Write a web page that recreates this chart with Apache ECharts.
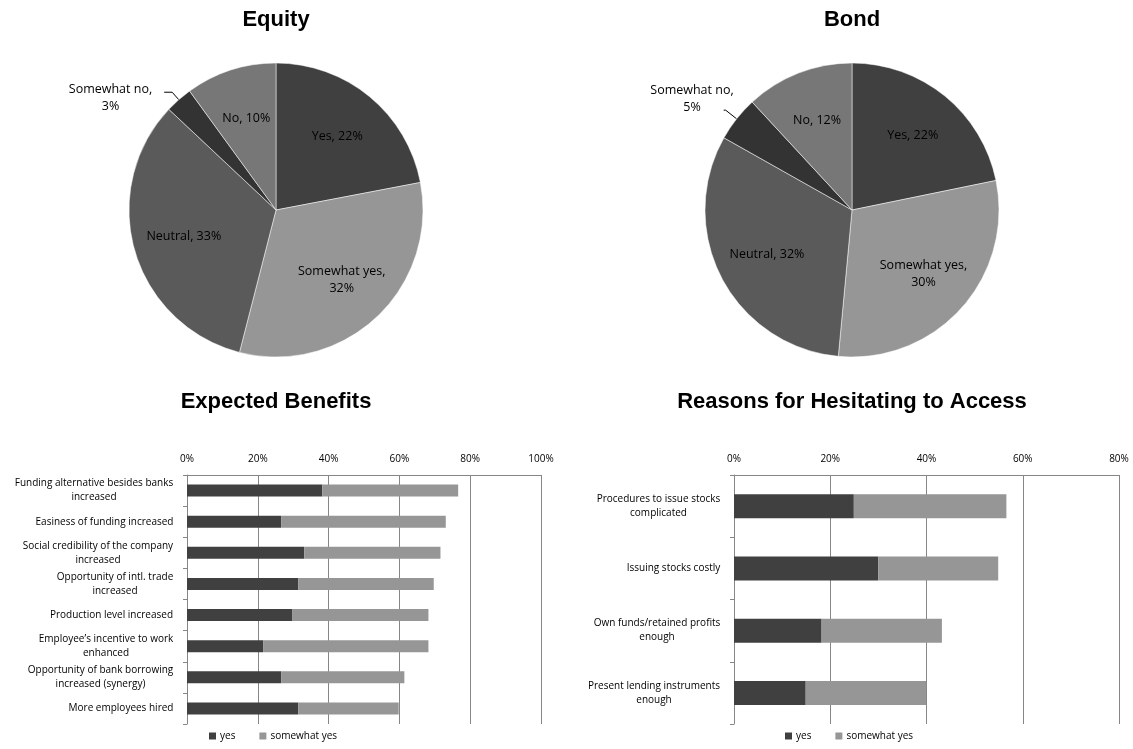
<!DOCTYPE html>
<html>
<head>
<meta charset="utf-8">
<script src="https://cdn.jsdelivr.net/npm/echarts@6/dist/echarts.min.js"></script>
<style>
  html, body { margin: 0; padding: 0; background: #fff; }
  #chart { width: 1133px; height: 749px; }
</style>
</head>
<body>
<div id="chart"></div>
<script>
// pie data (clockwise from 12 o'clock)
const pieNames = ['Yes', 'Somewhat yes', 'Neutral', 'Somewhat no', 'No'];
const equityValues = [22, 32, 33, 3, 10];
const bondValues = [22, 30, 32, 5, 12];
const pieColors = ['#404040', '#969696', '#5a5a5a', '#333333', '#777777'];

// bar data
const benefitCats = [
  'Funding alternative besides banks\nincreased',
  'Easiness of funding increased',
  'Social credibility of the company\nincreased',
  'Opportunity of intl. trade\nincreased',
  'Production level increased',
  'Employee\u2019s incentive to work\nenhanced',
  'Opportunity of bank borrowing\nincreased (synergy)',
  'More employees hired'
];
const benefitYes = [38.2, 26.6, 33.1, 31.4, 29.8, 21.5, 26.6, 31.4];
const benefitSomewhat = [38.4, 46.5, 38.5, 38.3, 38.4, 46.7, 34.8, 28.4];

const reasonCats = [
  'Procedures to issue stocks\ncomplicated',
  'Issuing stocks costly',
  'Own funds/retained profits\nenough',
  'Present lending instruments\nenough'
];
const reasonYes = [24.9, 30.0, 18.2, 14.9];
const reasonSomewhat = [31.7, 24.9, 25.0, 25.0];

const barColors = { yes: '#404040', somewhat: '#969696' };
const FONT = '"Open Sans", "Noto Sans", sans-serif';
const gridColor = '#868686';

// lines of a two-line label are centred on each other, the block is right aligned
const measureCtx = document.createElement('canvas').getContext('2d');
function centredRich(cats, prefix) {
  measureCtx.font = '10px "Open Sans"';
  const rich = {};
  cats.forEach((c, i) => {
    const w = Math.max(...c.split('\n').map(l => measureCtx.measureText(l).width));
    rich[prefix + i] = { width: Math.ceil(w) + 1, align: 'center', fontSize: 10, fontFamily: FONT, color: '#000', lineHeight: 14 };
  });
  return rich;
}
function catFormatter(prefix) {
  return (value, index) => value.split('\n').map(l => '{' + prefix + index + '|' + l + '}').join('\n');
}

function pieSlices(values, line) {
  return pieNames.map((n, i) => {
    const item = { name: n, value: values[i], itemStyle: { color: pieColors[i] } };
    if (n === 'Somewhat no') {
      item.label = { show: true, position: 'outside', formatter: '{b},\n{c}%' };
      item.labelLine = { show: true, length: line[0], length2: line[1], lineStyle: { color: '#000', width: 1 } };
    }
    return item;
  });
}
function pieLabelItems(values) {
  return pieNames.map((n, i) => ({
    name: n, value: values[i],
    label: { show: n !== 'Somewhat no' }
  }));
}

function pieSeries(values, cx, line, shift) {
  return [
    {
      type: 'pie', center: [cx, 210], radius: 147, startAngle: 90,
      silent: true,
      itemStyle: { borderColor: '#fff', borderWidth: 0.5 },
      label: { show: false, color: '#000', fontSize: 12.5, fontFamily: FONT, lineHeight: 17 },
      labelLine: { show: false },
      labelLayout: function (p) {
        return { align: 'center', dx: -p.labelRect.width / 2 + shift[0], dy: shift[1] };
      },
      data: pieSlices(values, line)
    },
    {
      // transparent copy used only to place the inner labels further out
      type: 'pie', center: [cx, 210], radius: [39, 147], startAngle: 90,
      silent: true, z: 3,
      itemStyle: { color: 'rgba(0,0,0,0)', borderWidth: 0 },
      label: {
        position: 'inside', color: '#000', fontSize: 12.5, fontFamily: FONT, lineHeight: 17,
        formatter: p => p.name === 'Somewhat yes' ? p.name + ',\n' + p.value + '%' : p.name + ', ' + p.value + '%'
      },
      labelLine: { show: false },
      data: pieLabelItems(values)
    }
  ];
}

function valueAxis(gridIndex, max) {
  return {
    gridIndex: gridIndex, type: 'value', position: 'top', min: 0, max: max, interval: 20,
    axisLine: { show: true, lineStyle: { color: gridColor } },
    axisTick: { show: false },
    axisLabel: { formatter: '{value}%', color: '#000', fontSize: 10, fontFamily: FONT, margin: 11 },
    splitLine: { show: true, lineStyle: { color: gridColor, width: 1 } }
  };
}
function categoryAxis(gridIndex, cats, prefix) {
  return {
    gridIndex: gridIndex, type: 'category', data: cats, inverse: true,
    axisLine: { show: true, lineStyle: { color: gridColor } },
    axisTick: { show: true, length: 4, lineStyle: { color: gridColor } },
    axisLabel: { color: '#000', fontSize: 10, fontFamily: FONT, margin: 13, formatter: catFormatter(prefix), rich: centredRich(cats, prefix) }
  };
}

const chart = echarts.init(document.getElementById('chart'));
chart.setOption({
  animation: false,
  backgroundColor: '#fff',
  title: [
    { text: 'Equity', left: 276, top: 9, textAlign: 'center', padding: 0 },
    { text: 'Bond', left: 852, top: 9, textAlign: 'center', padding: 0 },
    { text: 'Expected Benefits', left: 276, top: 391, textAlign: 'center', padding: 0 },
    { text: 'Reasons for Hesitating to Access', left: 852, top: 391, textAlign: 'center', padding: 0 }
  ].map(t => Object.assign(t, { textStyle: { fontFamily: '"Liberation Sans", Arial, sans-serif', fontWeight: 'bold', fontSize: 22, color: '#000' } })),
  legend: [
    { left: 209, top: 731, data: ['yes', 'somewhat yes'] },
    { left: 785, top: 731, data: ['yes', 'somewhat yes'] }
  ].map(l => Object.assign(l, {
    icon: 'rect', itemWidth: 7, itemHeight: 7, itemGap: 24, padding: 0,
    selectedMode: false,
    textStyle: { fontSize: 10, fontFamily: FONT, color: '#000', padding: [0, 0, 0, -1] }
  })),
  grid: [
    { left: 187, right: 592, top: 475, bottom: 25 },
    { left: 734, right: 14, top: 475, bottom: 25 }
  ],
  xAxis: [valueAxis(0, 100), valueAxis(1, 80)],
  yAxis: [categoryAxis(0, benefitCats, 'b'), categoryAxis(1, reasonCats, 'r')],
  series: [
    ...pieSeries(equityValues, 276, [10, 8], [-7, 6]),
    ...pieSeries(bondValues, 852, [14, 2], [15, -11]),
    { name: 'yes', type: 'bar', stack: 'b', xAxisIndex: 0, yAxisIndex: 0, barWidth: 12, itemStyle: { color: barColors.yes }, data: benefitYes },
    { name: 'somewhat yes', type: 'bar', stack: 'b', xAxisIndex: 0, yAxisIndex: 0, barWidth: 12, itemStyle: { color: barColors.somewhat }, data: benefitSomewhat },
    { name: 'yes', type: 'bar', stack: 'r', xAxisIndex: 1, yAxisIndex: 1, barWidth: 24, itemStyle: { color: barColors.yes }, data: reasonYes },
    { name: 'somewhat yes', type: 'bar', stack: 'r', xAxisIndex: 1, yAxisIndex: 1, barWidth: 24, itemStyle: { color: barColors.somewhat }, data: reasonSomewhat }
  ]
});
window.addEventListener('resize', () => chart.resize());
</script>
</body>
</html>
